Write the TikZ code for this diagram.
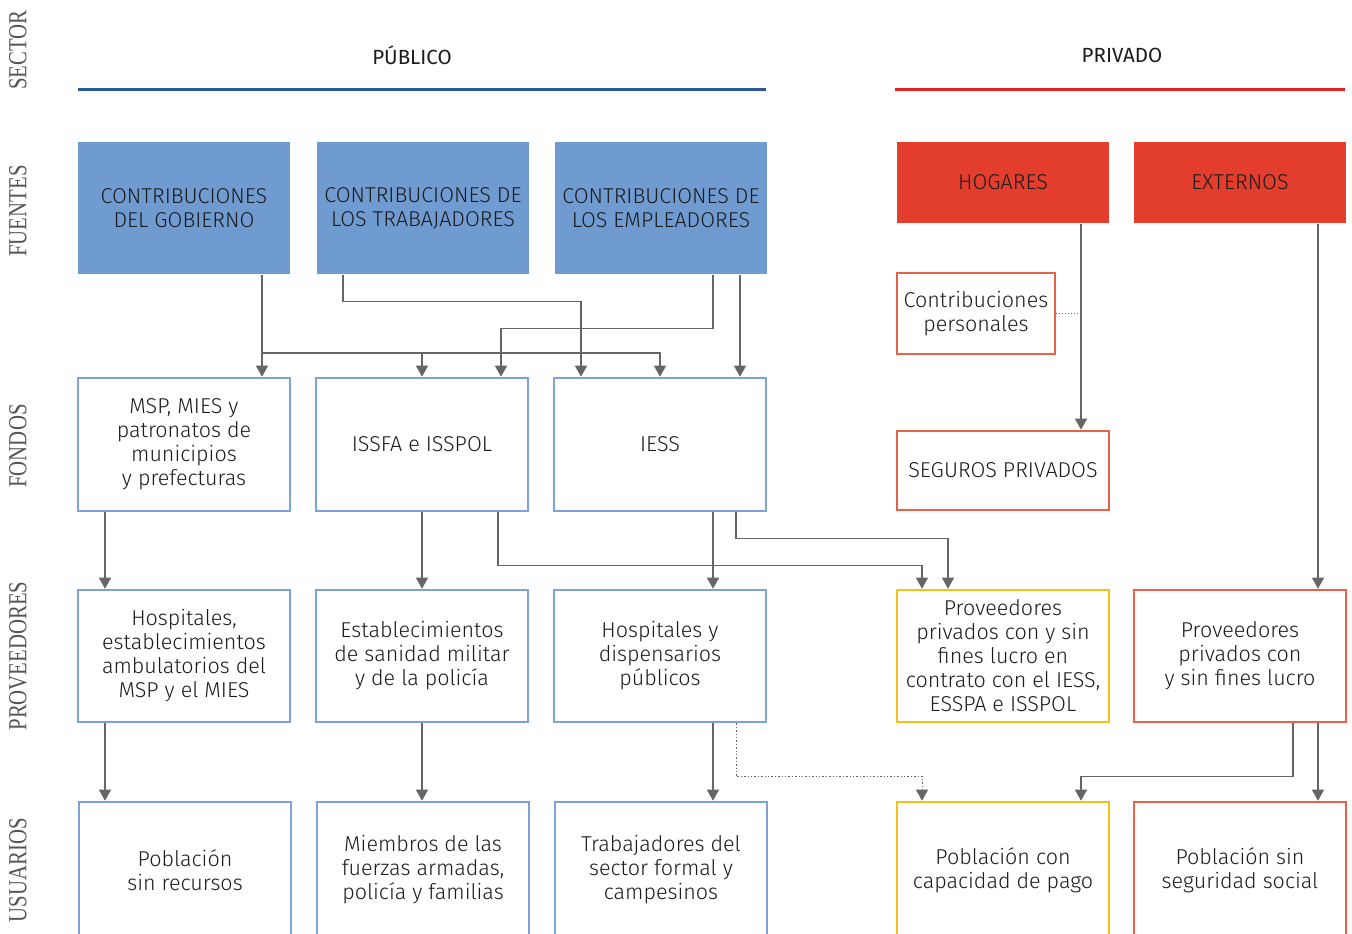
\documentclass[tikz,border=0pt]{standalone}
\usepackage{fontspec}
\setmainfont{Fira Sans}[UprightFont=* Light]
\newfontfamily\regfont{Fira Sans}
\newfontfamily\labfont{Liberation Serif}
\usetikzlibrary{arrows.meta}
\definecolor{bfill}{RGB}{111,155,209}
\definecolor{bedge}{RGB}{125,163,214}
\definecolor{bline}{RGB}{44,86,160}
\definecolor{rline}{RGB}{226,35,35}
\definecolor{rfill}{RGB}{226,61,45}
\definecolor{redge}{RGB}{232,98,74}
\definecolor{yedge}{RGB}{248,190,30}
\definecolor{cgray}{RGB}{102,102,102}
\definecolor{txt}{RGB}{28,28,28}
\definecolor{labc}{RGB}{85,85,85}
\tikzset{
  box/.style={draw, line width=2.6pt, minimum width=212pt, align=center, text=txt,
    font=\fontsize{21.5}{24}\selectfont, inner sep=2pt},
  bluefill/.style={box, draw=none, fill=bfill, minimum height=132pt},
  redfill/.style={box, draw=none, fill=rfill, minimum height=81pt},
  blueedge/.style={box, draw=bedge},
  rededge/.style={box, draw=redge},
  yelledge/.style={box, draw=yedge},
  conn/.style={draw=cgray, line width=1.4pt, -{Triangle[width=12pt,length=11pt]}},
  dotconn/.style={conn, dotted, line width=1pt},
  sidelab/.style={rotate=90, text=labc, font=\labfont\fontsize{26}{26}\selectfont},
  headtxt/.style={text=txt, font=\regfont\fontsize{20.5}{24}\selectfont}
}
\begin{document}
\begin{tikzpicture}[x=1pt,y=-1pt]
\useasboundingbox (0,0) rectangle (1352,934);
\clip (0,0) rectangle (1352,934);
\fill[white] (0,0) rectangle (1352,934);
% side labels
\node[sidelab] (lsec) at (18,50) {\scalebox{0.8}[1]{SECTOR}};
\node[sidelab] (lfue) at (18,211) {\scalebox{0.8}[1]{FUENTES}};
\node[sidelab] (lfon) at (18,446) {\scalebox{0.8}[1]{FONDOS}};
\node[sidelab] (lpro) at (18,656) {\scalebox{0.8}[1]{PROVEEDORES}};
\node[sidelab] (lusu) at (18,870) {\scalebox{0.8}[1]{USUARIOS}};
% headers
\node[headtxt] (hpub) at (412,55) {PÚBLICO};
\node[headtxt] (hpri) at (1122,55) {PRIVADO};
\draw[bline, line width=3pt] (78,89) -- (766,89);
\draw[rline, line width=3pt] (895,89) -- (1345,89);
% fuentes
\node[bluefill] (gov) at (184,208) {CONTRIBUCIONES\\DEL GOBIERNO};
\node[bluefill] (trab) at (423,208) {CONTRIBUCIONES DE\\LOS TRABAJADORES};
\node[bluefill] (emp) at (661,208) {CONTRIBUCIONES DE\\LOS EMPLEADORES};
\node[redfill] (hog) at (1003,182.5) {HOGARES};
\node[redfill] (ext) at (1240,182.5) {EXTERNOS};
\node[rededge, minimum width=158pt, minimum height=81pt] (cp) at (976,313.5) {Contribuciones\\personales};
\node[rededge, minimum height=79pt] (seg) at (1003,470.5) {SEGUROS PRIVADOS};
% fondos
\node[blueedge, minimum height=133pt] (msp) at (184,444.5) {MSP, MIES y\\patronatos de\\municipios\\y prefecturas};
\node[blueedge, minimum height=133pt] (issfa) at (422,444.5) {ISSFA e ISSPOL};
\node[blueedge, minimum height=133pt] (iess) at (660,444.5) {IESS};
% proveedores
\node[blueedge, minimum height=132pt] (hosp) at (184,656) {Hospitales,\\establecimientos\\ambulatorios del\\MSP y el MIES};
\node[blueedge, minimum height=132pt] (est) at (422,656) {Establecimientos\\de sanidad militar\\y de la policía};
\node[blueedge, minimum height=132pt] (hp) at (660,656) {Hospitales y\\dispensarios\\públicos};
\node[yelledge, minimum height=132pt] (pr1) at (1003,656) {Proveedores\\privados con y sin\\fines lucro en\\contrato con el IESS,\\ESSPA e ISSPOL};
\node[rededge, minimum height=132pt] (pr2) at (1240,656) {Proveedores\\privados con\\y sin fines lucro};
% usuarios
\node[blueedge, minimum height=136pt] (pob) at (185,870) {Población\\sin recursos};
\node[blueedge, minimum height=136pt] (mie) at (423,870) {Miembros de las\\fuerzas armadas,\\policía y familias};
\node[blueedge, minimum height=136pt] (tra) at (661,870) {Trabajadores del\\sector formal y\\campesinos};
\node[yelledge, minimum height=136pt] (pc) at (1003,870) {Población con\\capacidad de pago};
\node[rededge, minimum height=136pt] (ps) at (1240,870) {Población sin\\seguridad social};
% connectors fuentes -> fondos
\draw[conn] ([xshift=78pt]gov.south) -- ([xshift=78pt]msp.north);
\coordinate (busL) at (262,353);
\draw[conn] (busL) -| (iess.north);
\draw[conn] (busL -| issfa.north) -- (issfa.north);
\draw[conn] ([xshift=-80pt]trab.south) -- ++(0,26) -| ([xshift=-79pt]iess.north);
\draw[conn] ([xshift=52pt]emp.south) -- ++(0,53) -| ([xshift=79pt]issfa.north);
\draw[conn] ([xshift=79pt]emp.south) -- ([xshift=80pt]iess.north);
\draw[conn] ([xshift=78pt]hog.south) -- ([xshift=78pt]seg.north);
\coordinate (hx) at ([xshift=78pt]hog.south);
\draw[cgray, dotted, line width=1pt] (cp.east) -- (cp.east -| hx);
\draw[conn] ([xshift=78pt]ext.south) -- ([xshift=78pt]pr2.north);
% fondos -> proveedores
\draw[conn] ([xshift=-79pt]msp.south) -- ([xshift=-79pt]hosp.north);
\draw[conn] (issfa.south) -- (est.north);
\draw[conn] ([xshift=53pt]iess.south) -- ([xshift=53pt]hp.north);
\draw[conn] ([xshift=76pt]issfa.south) -- ++(0,53) -| ([xshift=-81pt]pr1.north);
\draw[conn] ([xshift=76pt]iess.south) -- ++(0,26) -| ([xshift=-55pt]pr1.north);
% proveedores -> usuarios
\draw[conn] ([xshift=-79pt]hosp.south) -- ([xshift=-80pt]pob.north);
\draw[conn] (est.south) -- ([xshift=-1pt]mie.north);
\draw[conn] ([xshift=53pt]hp.south) -- ([xshift=52pt]tra.north);
\draw[dotconn] ([xshift=76pt]hp.south) -- ++(0,53) -| ([xshift=-81pt]pc.north);
\draw[conn] ([xshift=53pt]pr2.south) -- ++(0,53) -| ([xshift=78pt]pc.north);
\draw[conn] ([xshift=78pt]pr2.south) -- ([xshift=78pt]ps.north);
\end{tikzpicture}
\end{document}
